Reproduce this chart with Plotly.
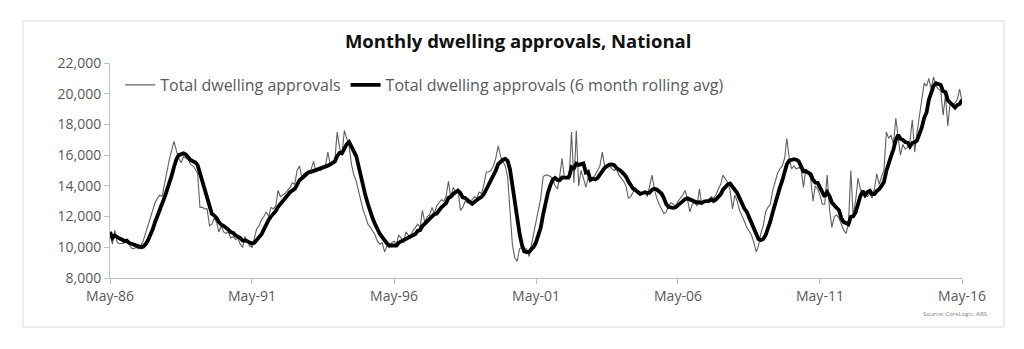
import pandas as pd
import plotly.graph_objects as go

# ---- data (monthly, May-86 .. May-16) ----
start_month = "1986-05-01"
approvals = [
    # May-86 .. Apr-87
    11000, 10200, 11100, 10300, 10250, 10250, 10300, 10400, 10200, 9950, 9900, 10000,
    # May-87 .. Apr-88
    9900, 10100, 10400, 10900, 11400, 11800, 12400, 12900, 13200, 13400, 13300, 14200,
    # May-88 .. Apr-89
    15000, 15700, 16300, 16900, 16300, 15800, 15500, 15900, 15800, 15700, 15400, 15300,
    # May-89 .. Apr-90
    15100, 14800, 12600, 12600, 12500, 12500, 11400, 11500, 11900, 11600, 11000, 11400,
    # May-90 .. Apr-91
    11000, 10900, 11000, 10600, 10700, 10500, 10600, 10200, 10000, 10700, 10400, 10100,
    # May-91 .. Apr-92
    10000, 10600, 11200, 11400, 11800, 12000, 12300, 12000, 12600, 12500, 12700, 13700,
    # May-92 .. Apr-93
    13300, 13400, 13500, 13700, 13900, 14200, 14100, 15000, 15300, 14500, 14800, 14900,
    # May-93 .. Apr-94
    14900, 15100, 15600, 14900, 15200, 15000, 15300, 15300, 16200, 15400, 15600, 15700,
    # May-94 .. Apr-95
    17500, 16500, 16000, 17600, 17000, 16600, 15400, 14700, 14300, 13600, 13000, 12400,
    # May-95 .. Apr-96
    12000, 11500, 11300, 11000, 10800, 10400, 10200, 10300, 9700, 10100, 10000, 10300,
    # May-96 .. Apr-97
    10400, 10200, 10800, 10600, 10300, 11000, 10800, 10700, 11100, 11300, 11500, 11300,
    # May-97 .. Apr-98
    12400, 11600, 12000, 12100, 12600, 12200, 12700, 12900, 13100, 13000, 13300, 14300,
    # May-98 .. Apr-99
    13200, 13900, 13600, 13800, 12400, 12600, 13000, 12900, 13000, 13100, 13300, 13200,
    # May-99 .. Apr-00
    13600, 13500, 14100, 14900, 14900, 15000, 15300, 15800, 16600, 15900, 15600, 15300,
    # May-00 .. Apr-01
    14600, 12400, 10200, 9300, 9100, 9900, 10000, 9900, 9900, 9400, 10100, 10900,
    # May-01 .. Apr-02
    11700, 12400, 13200, 14600, 14700, 14700, 14600, 14500, 14000, 13800, 14600, 15800,
    # May-02 .. Apr-03
    14500, 14500, 14400, 17500, 14200, 17600, 14000, 15000, 14500, 13900, 14500, 14400,
    # May-03 .. Apr-04
    14500, 14700, 15000, 15300, 16200, 15300, 15200, 15300, 15100, 15000, 15100, 14700,
    # May-04 .. Apr-05
    14500, 14300, 14000, 13200, 13300, 13600, 13900, 13500, 13400, 13500, 13600, 13300,
    # May-05 .. Apr-06
    14000, 14700, 13800, 13200, 12800, 12500, 12200, 12300, 12700, 12900, 12800, 12700,
    # May-06 .. Apr-07
    13000, 13200, 13400, 13700, 13100, 12300, 12800, 12900, 12700, 13800, 12800, 12900,
    # May-07 .. Apr-08
    13000, 12900, 13300, 13200, 13400, 13800, 14100, 14700, 14400, 14200, 13700, 12500,
    # May-08 .. Apr-09
    13400, 13000, 12400, 12100, 11700, 11300, 11000, 10800, 10300, 9700, 10100, 10900,
    # May-09 .. Apr-10
    11400, 12300, 12600, 12800, 13700, 14300, 14800, 15100, 15300, 15800, 17100, 15800,
    # May-10 .. Apr-11
    15100, 15300, 15100, 15200, 15100, 13900, 15100, 14800, 14500, 13000, 14000, 13800,
    # May-11 .. Apr-12
    13400, 12800, 12800, 14700, 12500, 11300, 12000, 12100, 11900, 11500, 11100, 10900,
    # May-12 .. Apr-13
    11500, 15000, 12100, 13000, 14500, 13800, 13600, 13400, 13300, 13500, 13200, 13800,
    # May-13 .. Apr-14
    14800, 14100, 14600, 15000, 17500, 17100, 17300, 16700, 18400, 16900, 16000, 16700,
    # May-14 .. Apr-15
    16400, 16500, 16900, 18300, 16200, 17500, 18500, 19400, 20700, 20500, 21000, 20300,
    # May-15 .. Apr-16
    21100, 20500, 20300, 20200, 18600, 19900, 17900, 19500, 19300, 19400, 19600, 20300,
    # May-16
    19500,
]
tick_dates = ["1986-05-01", "1991-05-01", "1996-05-01", "2001-05-01",
              "2006-05-01", "2011-05-01", "2016-05-01"]
series_names = ["Total dwelling approvals",
                "Total dwelling approvals (6 month rolling avg)"]
title_text = "Monthly dwelling approvals, National"
source_text = "Source: CoreLogic, ABS"

months = pd.date_range(start_month, periods=len(approvals), freq="MS")
raw = pd.Series(approvals, index=months)
rolling = raw.rolling(6, min_periods=1).mean()

FONT = "Open Sans"
GREY_TXT = "#595959"
AXIS = "#bfbfbf"

fig = go.Figure()
fig.add_trace(go.Scatter(x=months, y=raw.values, mode="lines",
                         name=series_names[0],
                         line=dict(color="#606060", width=1.1)))
fig.add_trace(go.Scatter(x=months, y=rolling.values, mode="lines",
                         name=series_names[1],
                         line=dict(color="#000000", width=3.8)))

fig.update_layout(
    width=1024, height=349,
    margin=dict(l=110, r=62, t=63, b=71),
    paper_bgcolor="white", plot_bgcolor="white",
    font=dict(family=FONT, color=GREY_TXT),
    title=dict(text=title_text, x=0.506, xref="container", xanchor="center",
               y=1 - 42 / 349, yref="container", yanchor="middle",
               font=dict(family=FONT, size=18.5, color="#111111", weight="bold")),
    showlegend=True,
    legend=dict(orientation="h", x=0.012, xanchor="left", y=0.898,
                yanchor="middle", bgcolor="rgba(0,0,0,0)",
                font=dict(family=FONT, size=16, color=GREY_TXT),
                itemclick=False, itemdoubleclick=False),
    xaxis=dict(type="date", range=[tick_dates[0], tick_dates[-1]],
               tickvals=tick_dates, tickformat="%b-%y",
               showgrid=False, zeroline=False,
               showline=True, linecolor=AXIS, linewidth=1,
               ticks="outside", ticklen=5, tickcolor=AXIS,
               tickfont=dict(family=FONT, size=14, color=GREY_TXT)),
    yaxis=dict(range=[8000, 22000], dtick=2000, tickformat=",",
               showgrid=False, zeroline=False,
               showline=True, linecolor=AXIS, linewidth=1,
               ticks="outside", ticklen=5, tickcolor=AXIS,
               tickfont=dict(family=FONT, size=14, color=GREY_TXT)),
    shapes=[dict(type="rect", xref="paper", yref="paper",
                 x0=(23 - 110) / 852, x1=(1004 - 110) / 852,
                 y0=(278 - 327) / 215, y1=(278 - 21) / 215,
                 line=dict(color="#d9d9d9", width=1), layer="below")],
    annotations=[dict(text=source_text, xref="paper", yref="paper",
                      x=(989 - 110) / 852, y=(278 - 314) / 215,
                      xanchor="right", yanchor="middle", showarrow=False,
                      font=dict(family=FONT, size=6, color="#7f7f7f"))],
)

fig.write_html("out.html")
